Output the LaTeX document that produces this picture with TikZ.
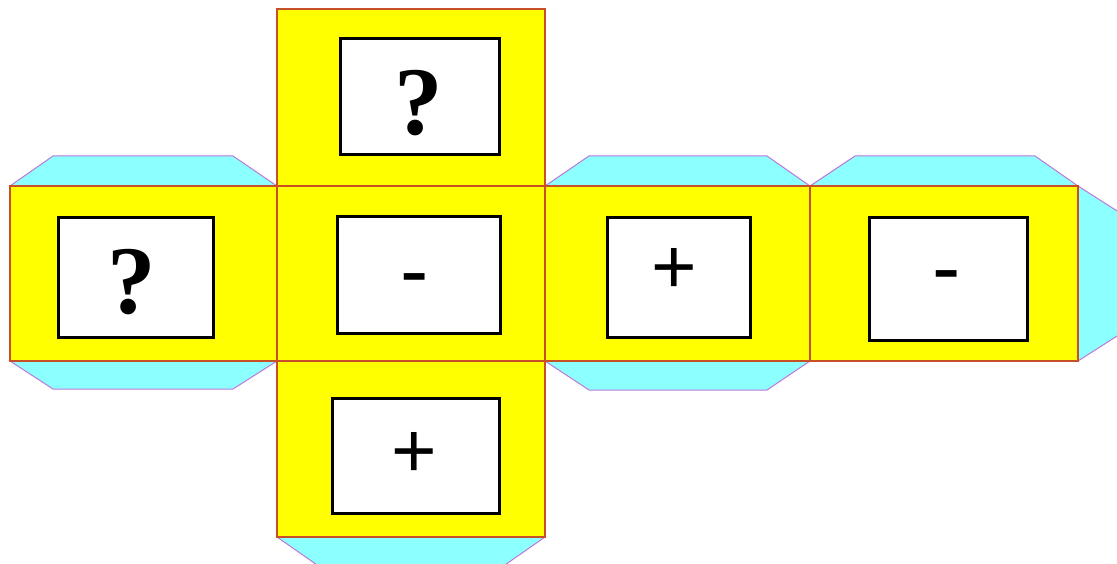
\documentclass[tikz,border=0pt]{standalone}
\usepackage{fontspec}
\setmainfont{Liberation Serif}
\newfontfamily\arialfont{Liberation Sans}
\definecolor{faceyellow}{RGB}{255,255,0}
\definecolor{facered}{RGB}{200,80,40}
\definecolor{tabcyan}{RGB}{140,255,255}
\definecolor{tabviolet}{RGB}{190,120,220}
\tikzset{
  face/.style={fill=faceyellow,draw=facered,line width=1.4pt},
  tab/.style={fill=tabcyan,draw=tabviolet,line width=1pt,line join=miter},
  labelbox/.style={draw=black,fill=white,line width=2.6pt,inner sep=0pt,anchor=north west},
  qmark/.style={font=\fontsize{97}{97}\selectfont\bfseries,inner sep=0pt,anchor=base},
  plussign/.style={font=\arialfont\fontsize{78}{78}\selectfont,inner sep=0pt,anchor=base},
  minussign/.style={font=\arialfont\fontsize{85}{85}\selectfont,inner sep=0pt,anchor=base},
}
\begin{document}
\begin{tikzpicture}[x=1pt,y=-1pt]
\useasboundingbox (0,0) rectangle (1117,564);
\clip (0,0) rectangle (1117,564);
% tabs
\draw[tab] (10,186) -- (53,156) -- (233,156) -- (277,186) -- cycle;
\draw[tab] (10,361) -- (53,389) -- (233,389) -- (277,361) -- cycle;
\draw[tab] (545,186) -- (589,156) -- (767,156) -- (810,186) -- cycle;
\draw[tab] (545,361) -- (589,390) -- (767,390) -- (810,361) -- cycle;
\draw[tab] (810,186) -- (855,156) -- (1035,156) -- (1078,186) -- cycle;
\draw[tab] (1078,186) -- (1125,216) -- (1125,331) -- (1078,361) -- cycle;
\draw[tab] (277,537) -- (320,567) -- (502,567) -- (545,537) -- cycle;
% faces
\draw[face] (10,186) rectangle (277,361);
\draw[face] (277,9) rectangle (545,186);
\draw[face] (277,186) rectangle (545,361);
\draw[face] (277,361) rectangle (545,537);
\draw[face] (545,186) rectangle (810,361);
\draw[face] (810,186) rectangle (1078,361);
% inner boxes
\node[labelbox,minimum width=155pt,minimum height=120pt] (boxL) at (57,216) {};
\node[labelbox,minimum width=159pt,minimum height=116pt] (boxT) at (339,37) {};
\node[labelbox,minimum width=163pt,minimum height=117pt] (boxC) at (336,215) {};
\node[labelbox,minimum width=167pt,minimum height=115pt] (boxB) at (331,397) {};
\node[labelbox,minimum width=143pt,minimum height=120pt] (boxR) at (606,216) {};
\node[labelbox,minimum width=158pt,minimum height=123pt] (boxRR) at (868,216) {};
% labels
\node[qmark] (qL) at (132,313) {?};
\node[qmark] (qT) at (419,135) {?};
\node[minussign] (mC) at (415,300) {-};
\node[plussign] (pR) at (674,294) {+};
\node[plussign] (pB) at (414,477.5) {+};
\node[minussign] (mRR) at (947,297) {-};
\end{tikzpicture}
\end{document}
